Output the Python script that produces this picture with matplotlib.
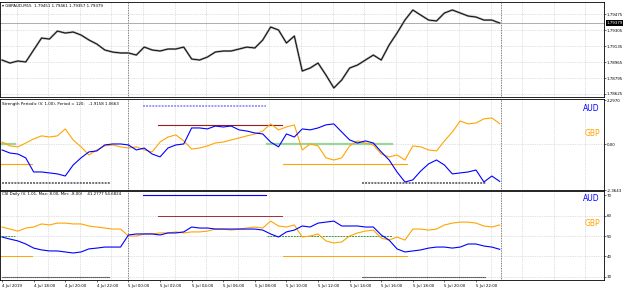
import matplotlib
matplotlib.use("Agg")
import matplotlib.pyplot as plt
import matplotlib.transforms as mtransforms
import numpy as np

# half-hour closes starting 4 Jul 2019 16:00 (x axis = hours since then)
hours = np.arange(64) * 0.5

gbpaud_close = [1.78986, 1.78954, 1.78976, 1.78965, 1.79093, 1.79220, 1.79209, 1.79294,
                1.79273, 1.79284, 1.79252, 1.79199, 1.79156, 1.79093, 1.79071, 1.79061,
                1.79061, 1.79039, 1.79124, 1.79093, 1.79082, 1.79103, 1.79103, 1.79124,
                1.78997, 1.78986, 1.79018, 1.79071, 1.79082, 1.79082, 1.79103, 1.79124,
                1.79114, 1.79199, 1.79337, 1.79305, 1.79167, 1.79241, 1.78869, 1.78901,
                1.78954, 1.78827, 1.78689, 1.78774, 1.78901, 1.78933, 1.78986, 1.79039,
                1.78986, 1.79146, 1.79273, 1.79411, 1.79518, 1.79464, 1.79411, 1.79401,
                1.79486, 1.79518, 1.79486, 1.79454, 1.79443, 1.79411, 1.79411, 1.79379]

strength_aud = [-0.29, -0.45, -0.50, -0.70, -1.43, -1.43, -1.48, -1.53,
                -1.64, -1.07, -0.70, -0.39, -0.34, -0.03, 0.02, 0.02,
                -0.03, -0.29, -0.19, -0.50, -0.65, -0.19, -0.03, 0.02,
                0.85, 0.85, 0.80, 0.95, 0.90, 0.95, 0.75, 0.69,
                0.59, 0.54, 0.12, -0.13, 0.54, 0.38, 0.80, 0.75,
                0.85, 1.01, 1.06, 0.64, 0.23, 0.07, 0.18, 0.07,
                -0.39, -0.81, -1.43, -1.95, -1.84, -1.38, -1.01, -0.81,
                -1.07, -1.53, -1.48, -1.43, -1.33, -1.95, -1.64, -1.92]
strength_gbp = [0.12, -0.08, -0.13, 0.07, 0.28, 0.44, 0.38, 0.44,
                0.80, 0.23, -0.13, -0.55, -0.29, -0.08, -0.03, -0.13,
                -0.19, -0.13, -0.29, -0.39, 0.12, 0.38, 0.49, 0.18,
                -0.24, -0.19, -0.08, 0.07, 0.12, 0.23, 0.33, 0.44,
                0.54, 0.69, 1.06, 0.75, 0.90, 1.01, -0.29, 0.02,
                -0.08, -0.70, -0.81, -0.70, -0.08, 0.18, 0.07, -0.03,
                -0.50, -0.65, -0.55, -0.81, -0.08, -0.13, -0.29, -0.34,
                0.18, 0.64, 1.21, 1.06, 1.11, 1.32, 1.37, 1.07]

csi_aud = [49.5, 48.5, 47.6, 46.1, 44.1, 43.2, 42.7, 42.7,
           42.2, 41.7, 42.2, 43.7, 44.1, 44.6, 44.6, 44.6,
           50.5, 51.0, 51.0, 51.0, 50.5, 51.5, 51.5, 52.0,
           54.4, 53.9, 53.9, 53.4, 53.4, 53.4, 53.4, 53.4,
           53.4, 52.9, 51.0, 49.5, 52.0, 52.9, 54.9, 54.4,
           56.3, 56.8, 57.3, 54.9, 54.9, 54.9, 54.4, 54.4,
           50.5, 48.0, 43.7, 42.2, 42.7, 43.2, 44.1, 44.6,
           44.6, 44.1, 44.6, 46.1, 46.1, 45.1, 44.6, 43.5]
csi_gbp = [54.4, 53.4, 52.4, 53.9, 54.4, 55.9, 55.4, 56.3,
           56.3, 55.9, 55.9, 54.9, 54.4, 53.9, 53.4, 53.4,
           50.0, 50.0, 51.0, 51.0, 51.5, 51.5, 52.0, 51.5,
           52.0, 52.0, 52.4, 53.4, 53.4, 52.9, 53.4, 53.9,
           54.4, 53.9, 57.3, 54.9, 54.4, 55.4, 49.5, 50.0,
           51.0, 47.6, 46.6, 47.1, 50.0, 51.5, 52.4, 52.9,
           49.0, 48.0, 49.5, 48.0, 53.4, 53.4, 52.9, 53.4,
           55.4, 56.3, 56.8, 56.8, 56.3, 54.9, 54.4, 55.4]

time_labels = ["4 Jul 2019", "4 Jul 18:00", "4 Jul 20:00", "4 Jul 22:00",
               "5 Jul 00:00", "5 Jul 02:00", "5 Jul 04:00", "5 Jul 06:00",
               "5 Jul 08:00", "5 Jul 10:00", "5 Jul 12:00", "5 Jul 14:00",
               "5 Jul 16:00", "5 Jul 18:00", "5 Jul 20:00", "5 Jul 22:00"]
label_hours = [0, 2, 4, 6, 8, 10, 12, 14, 16, 18, 20, 22, 24, 26, 28, 30]

price_ticks = [1.78625, 1.78795, 1.78965, 1.79135, 1.79305, 1.79475]
last_price = 1.79379
strength_ticks = [-2.3643, 0.0, 2.2970]
csi_ticks = [30, 40, 50, 60, 70]

# session levels: value in each pane + time spans (hours)
strength_levels = [2, 1, 0, -1, -2]
csi_levels = [70, 60, 50, 40, 30]
level_spans = [[(8.92, 16.7)],
               [(9.87, 17.7)],
               [(-0.2, 0.82), (16.8, 24.7)],
               [(-0.2, 1.9), (17.8, 25.6)],
               [(0.0, 6.84), (22.8, 30.6)]]

W, H = 625, 289
XR = (-0.13, 38.1)
FS = 2.9
fig = plt.figure(figsize=(W / 100, H / 100), dpi=100)
fig.patch.set_facecolor("white")


def pane(top, bottom):
    ax = fig.add_axes([0, 1 - bottom / H, 604 / W, (bottom - top) / H])
    ax.set_xlim(*XR)
    ax.yaxis.tick_right()
    ax.tick_params(labelsize=FS, length=1.5, width=0.4, pad=0.6, colors="black")
    for sp in ax.spines.values():
        sp.set_linewidth(0.6)
    for g in np.arange(0.92, 38, 2.0):
        ax.axvline(g, color="#c4c4c4", lw=0.5, ls=(0, (1, 1.5)), zorder=0)
    for v in (8.0, 31.6):
        ax.axvline(v, color="#555555", lw=0.6, ls=(0, (1, 1)), zorder=1)
    ax.set_xticks([])
    return ax


ax1 = pane(2, 97)
ax2 = pane(99, 190)
ax3 = pane(191, 280)

# --- price pane
ax1.set_ylim(1.78593, 1.79603)
ax1.set_yticks(price_ticks)
ax1.set_yticklabels([f"{p:.5f}" for p in price_ticks])
for p in price_ticks:
    ax1.axhline(p, color="#c4c4c4", lw=0.5, ls=(0, (1, 1.5)), zorder=0)
ax1.axhline(last_price, color="#a0a0a0", lw=0.6, zorder=1)
ax1.plot(hours, gbpaud_close, color="#9a9a9a", lw=1.5, zorder=2)
ax1.plot(hours, gbpaud_close, color="black", lw=0.6, zorder=3)
tr = mtransforms.blended_transform_factory(ax1.transAxes, ax1.transData)
ax1.text(1.004, last_price, f"{last_price:.5f}", transform=tr, fontsize=FS, color="white",
         va="center", ha="left", bbox=dict(boxstyle="square,pad=0.2", fc="black", ec="none"))
ax1.text(0.004, 0.955, "\u25be GBPAUD,M15  1.79451 1.79461 1.79357 1.79379", transform=ax1.transAxes,
         fontsize=FS, va="center", ha="left")

# --- strength pane
ax2.set_ylim(-2.36, 2.35)
ax2.set_yticks(strength_ticks)
ax2.set_yticklabels(["-2.3643", "0.00", "2.2970"])
ax2.axhline(0, color="#c4c4c4", lw=0.5, ls=(0, (1, 1.5)), zorder=0)
mid_styles = [dict(color="#9a9aff", lw=1.4, ls=(0, (1, 0.6))),
              dict(color="#a01818", lw=0.8),
              dict(color="#9ad49a", lw=1.6),
              dict(color="#ffa500", lw=0.8),
              dict(color="#707070", lw=1.4, ls=(0, (1, 0.6)))]
for lev, spans, st in zip(strength_levels, level_spans, mid_styles):
    for a, b in spans:
        ax2.plot([a, b], [lev, lev], zorder=2, **st)
ax2.plot(hours, strength_gbp, color="#ffa500", lw=0.8, zorder=3)
ax2.plot(hours, strength_aud, color="#0000ff", lw=0.8, zorder=4)
ax2.text(0.004, 0.945, "Strength Periodic (V. 1.00), Period = 120:   -1.9158 1.0663",
         transform=ax2.transAxes, fontsize=FS, va="center", ha="left")
ax2.text(0.993, 0.90, "AUD", color="#0000ff", fontsize=5.5, ha="right", va="center", transform=ax2.transAxes)
ax2.text(0.993, 0.626, "GBP", color="#ffa500", fontsize=5.5, ha="right", va="center", transform=ax2.transAxes)

# --- CSI pane
ax3.set_ylim(28.5, 72)
ax3.set_yticks(csi_ticks)
ax3.set_yticklabels([str(v) for v in csi_ticks])
for v in csi_ticks[:-1]:
    ax3.axhline(v, color="#c4c4c4", lw=0.5, ls=(0, (1, 1.5)), zorder=0)
low_styles = [dict(color="#0000ff", lw=0.8),
              dict(color="#a03030", lw=0.7),
              dict(color="#3a9a3a", lw=0.7, ls=(0, (2, 1))),
              dict(color="#ffa500", lw=0.7),
              dict(color="black", lw=0.8, ls=(0, (1, 0.8)))]
for lev, spans, st in zip(csi_levels, level_spans, low_styles):
    for a, b in spans:
        ax3.plot([a, b], [lev, lev], zorder=2, **st)
ax3.plot(hours, csi_gbp, color="#ffa500", lw=0.8, zorder=3)
ax3.plot(hours, csi_aud, color="#0000ff", lw=0.8, zorder=4)
ax3.text(0.004, 0.966, "CSI Daily (V. 1.01, Max: 8.00, Min: -8.00)    41.2777 54.6824",
         transform=ax3.transAxes, fontsize=FS, va="center", ha="left")
ax3.text(0.993, 0.92, "AUD", color="#0000ff", fontsize=5.5, ha="right", va="center", transform=ax3.transAxes)
ax3.text(0.993, 0.63, "GBP", color="#ffa500", fontsize=5.5, ha="right", va="center", transform=ax3.transAxes)

ax3.set_xticks(label_hours)
ax3.set_xticklabels(time_labels)
ax3.tick_params(axis="x", labelsize=FS, length=1.5, pad=1.2)
for t in ax3.get_xticklabels():
    t.set_ha("left")

fig.savefig("out.png", dpi=100)
